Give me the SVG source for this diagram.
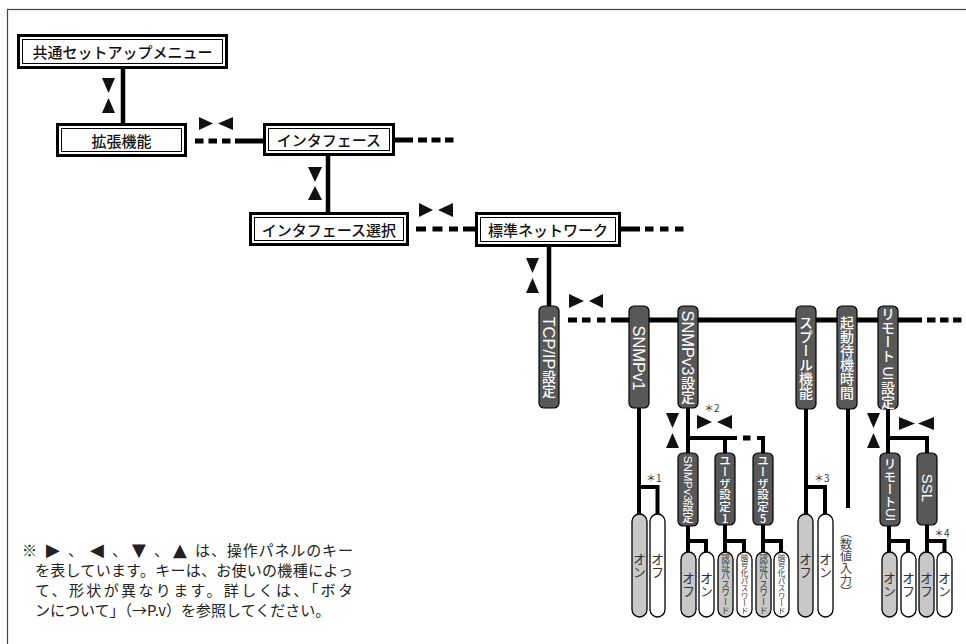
<svg xmlns="http://www.w3.org/2000/svg" width="966" height="644" viewBox="0 0 966 644">
<style>
.bx{font-family:"Noto Sans CJK JP",sans-serif;font-size:15px;font-weight:500;fill:#111;text-anchor:middle;dominant-baseline:central}
.o{fill:#fff;stroke:#000;stroke-width:3}
.i{fill:none;stroke:#000;stroke-width:1}
.dk{fill:#585858;stroke:#000;stroke-width:1.2}
.vt{font-family:"Noto Sans CJK JP",sans-serif;writing-mode:vertical-rl;text-orientation:mixed;text-anchor:middle;fill:#fff;font-size:14px;font-weight:500}
.lat{font-family:"Liberation Sans",Arial,sans-serif;font-size:16.5px;font-weight:400}
.up{text-orientation:upright}
.pg{fill:#c8c8c8;stroke:#000;stroke-width:1.3}
.pw{fill:#fff;stroke:#000;stroke-width:1.3}
.pt{font-family:"Noto Sans CJK JP",sans-serif;writing-mode:vertical-rl;text-anchor:middle;fill:#333;font-size:13px}
.ln{fill:none;stroke:#000;stroke-width:4.5;stroke-linejoin:miter}
.br{fill:none;stroke:#000;stroke-width:4;stroke-linejoin:miter}
.tri{fill:#111}
.ast{font-family:"Noto Sans CJK JP",sans-serif;font-size:10px;fill:#333;dominant-baseline:central}
.nt{font-family:"Noto Sans CJK JP",sans-serif;font-size:15px;fill:#222}
.ntt{font-family:"DejaVu Sans",sans-serif;font-size:18px;fill:#222}
</style>
<rect x="0" y="0" width="966" height="644" fill="#fff"/>
<rect x="7.5" y="9.5" width="970" height="650" fill="none" stroke="#444" stroke-width="1.2"/>

<g id="connectors">
  <line class="ln" x1="123" y1="69" x2="123" y2="123"/>
  <g fill="#000">
    <rect x="195" y="138.5" width="8.5" height="5"/><rect x="208.5" y="138.5" width="8.5" height="5"/><rect x="222" y="138.5" width="8.5" height="5"/>
    <rect x="235" y="138.5" width="28" height="5"/>
    <rect x="395" y="137.5" width="18" height="5"/>
    <rect x="418" y="137.5" width="9" height="5"/><rect x="431.5" y="137.5" width="9" height="5"/><rect x="445" y="137.5" width="8.5" height="5"/>
    <rect x="416" y="226.5" width="10" height="5"/><rect x="432.5" y="226.5" width="10" height="5"/><rect x="449" y="226.5" width="9" height="5"/>
    <rect x="463" y="226.5" width="12" height="5"/>
    <rect x="621" y="226.5" width="19" height="5"/>
    <rect x="645" y="226.5" width="8.5" height="5"/><rect x="660" y="226.5" width="8.5" height="5"/><rect x="675" y="226.5" width="8.5" height="5"/>
    <rect x="568" y="317.5" width="9" height="5"/><rect x="582" y="317.5" width="8.5" height="5"/><rect x="597" y="317.5" width="8.5" height="5"/>
    <rect x="611" y="317.5" width="311" height="5"/>
    <rect x="927" y="317.5" width="8.5" height="5"/><rect x="940" y="317.5" width="8.5" height="5"/><rect x="953" y="317.5" width="8.5" height="5"/>
    <rect x="743" y="435.5" width="7.5" height="5"/>
  </g>
  <line class="ln" x1="328" y1="156" x2="328" y2="212"/>
  <line class="ln" x1="549" y1="247" x2="549" y2="306"/>
  <line class="br" x1="639" y1="408" x2="639" y2="514"/>
  <path class="br" d="M639 487H657.5V514"/>
  <line class="br" x1="688" y1="408" x2="688" y2="453"/>
  <path class="br" d="M688 438H737"/>
  <path class="br" d="M757 438H763V453"/>
  <line class="br" x1="725" y1="438" x2="725" y2="453"/>
  <line class="br" x1="688" y1="526" x2="688" y2="552"/>
  <path class="br" d="M688 541H706V552"/>
  <line class="br" x1="725" y1="525" x2="725" y2="552"/>
  <path class="br" d="M725 541H744V552"/>
  <line class="br" x1="763" y1="525" x2="763" y2="552"/>
  <path class="br" d="M763 541H781V552"/>
  <line class="br" x1="806" y1="409" x2="806" y2="514"/>
  <path class="br" d="M806 487H825V514"/>
  <line class="br" x1="848" y1="409" x2="848" y2="508"/>
  <line class="br" x1="888" y1="409" x2="888" y2="453"/>
  <path class="br" d="M888 438H927V453"/>
  <line class="br" x1="889" y1="526" x2="889" y2="552"/>
  <path class="br" d="M889 541H908V552"/>
  <line class="br" x1="927" y1="525" x2="927" y2="552"/>
  <path class="br" d="M927 541H944.5V552"/>
  <polygon class="tri" points="102,78 115,78 108.5,93"/><polygon class="tri" points="102,113 115,113 108.5,98"/>
  <polygon class="tri" points="199,117 199,130 213,123.5"/><polygon class="tri" points="233,117 233,130 218,123.5"/>
  <polygon class="tri" points="308,167 322,167 315,182"/><polygon class="tri" points="308,200 322,200 315,186"/>
  <polygon class="tri" points="419,203 419,217 433,210"/><polygon class="tri" points="453,203 453,217 438,210"/>
  <polygon class="tri" points="526,258 539,258 532.5,273"/><polygon class="tri" points="526,293 539,293 532.5,278"/>
  <polygon class="tri" points="569,294 569,308 584,301"/><polygon class="tri" points="603,294 603,308 589,301"/>
  <polygon class="tri" points="666,413 679,413 672.5,428"/><polygon class="tri" points="666,448 679,448 672.5,433"/>
  <polygon class="tri" points="697,415 697,429 712,422"/><polygon class="tri" points="732,415 732,429 717,422"/>
  <polygon class="tri" points="867,413 880,413 873.5,428"/><polygon class="tri" points="867,448 880,448 873.5,433"/>
  <polygon class="tri" points="899,417 899,430 915,423.5"/><polygon class="tri" points="934,417 934,430 918,423.5"/>
</g>

<g id="n-common">
  <rect class="o" x="18.5" y="35.5" width="208" height="32"/><rect class="i" x="22.5" y="39.5" width="200" height="24"/>
  <text class="bx" x="122.5" y="51.5">共通セットアップメニュー</text>
</g>
<g id="n-ext">
  <rect class="o" x="57.5" y="124.5" width="128" height="31"/><rect class="i" x="61.5" y="128.5" width="120" height="23"/>
  <text class="bx" x="121.5" y="140">拡張機能</text>
</g>
<g id="n-if">
  <rect class="o" x="264.5" y="124.5" width="129" height="30"/><rect class="i" x="268.5" y="128.5" width="121" height="22"/>
  <text class="bx" x="329" y="139.5">インタフェース</text>
</g>
<g id="n-ifsel">
  <rect class="o" x="250.5" y="213.5" width="157" height="31"/><rect class="i" x="254.5" y="217.5" width="149" height="23"/>
  <text class="bx" x="329" y="229">インタフェース選択</text>
</g>
<g id="n-std">
  <rect class="o" x="476.5" y="213.5" width="143" height="32"/><rect class="i" x="480.5" y="217.5" width="135" height="24"/>
  <text class="bx" x="548" y="229.5">標準ネットワーク</text>
</g>

<g id="n-tcp"><rect class="dk" x="539" y="306" width="20" height="102" rx="5"/>
  <text class="vt" x="549" y="357"><tspan class="lat">TCP/IP</tspan>設定</text></g>
<g id="n-snmpv1"><rect class="dk" x="629" y="306" width="20" height="102" rx="5"/>
  <text class="vt" x="639" y="358"><tspan class="lat">SNMPv1</tspan></text></g>
<g id="n-snmpv3"><rect class="dk" x="678" y="306" width="20" height="102" rx="5"/>
  <text class="vt" x="688" y="357"><tspan class="lat">SNMPv3</tspan>設定</text></g>
<g id="n-spool"><rect class="dk" x="796" y="306" width="20" height="103" rx="5"/>
  <text class="vt" x="806" y="357.5">スプール機能</text></g>
<g id="n-wait"><rect class="dk" x="837" y="306" width="20" height="103" rx="5"/>
  <text class="vt" x="847" y="357.5">起動待機時間</text></g>
<g id="n-rui"><rect class="dk" x="878" y="306" width="20" height="103" rx="5"/>
  <text class="vt" x="888" y="357.5">リモート<tspan class="lat" style="font-size:14px"> UI</tspan>設定</text></g>

<g id="n-snmpv3s"><rect class="dk" x="678" y="453" width="20" height="73" rx="5"/>
  <text class="vt" x="688" y="489.5" style="font-size:11px"><tspan class="lat" style="font-size:11.5px">SNMPv3</tspan>設定</text></g>
<g id="n-user1"><rect class="dk" x="715" y="453" width="20" height="72" rx="5"/>
  <text class="vt" x="725" y="489" style="font-size:11.5px">ユーザ設定<tspan class="up">1</tspan></text></g>
<g id="n-user5"><rect class="dk" x="753" y="453" width="20" height="72" rx="5"/>
  <text class="vt" x="763" y="489" style="font-size:11.5px">ユーザ設定<tspan class="up">5</tspan></text></g>
<g id="n-ruis"><rect class="dk" x="880" y="453" width="20" height="73" rx="5"/>
  <text class="vt" x="890" y="489.5" style="font-size:12.5px">リモート<tspan class="lat" style="font-size:13px">UI</tspan></text></g>
<g id="n-ssl"><rect class="dk" x="917" y="453" width="20" height="72" rx="5"/>
  <text class="vt" x="927" y="488"><tspan class="lat" style="font-size:15px">SSL</tspan></text></g>

<g id="p-v1-on"><rect class="pg" x="632" y="514" width="15" height="103" rx="7.5"/><text class="pt" x="639.5" y="565.5">オン</text></g>
<g id="p-v1-off"><rect class="pw" x="650" y="514" width="15" height="103" rx="7.5"/><text class="pt" x="657.5" y="565.5">オフ</text></g>
<g id="p-v3-off"><rect class="pg" x="681" y="552" width="15" height="65" rx="7.5"/><text class="pt" x="688.5" y="584.5">オフ</text></g>
<g id="p-v3-on"><rect class="pw" x="699" y="552" width="15" height="65" rx="7.5"/><text class="pt" x="706.5" y="584.5">オン</text></g>
<g id="p-u1-auth"><rect class="pg" x="718" y="552" width="15" height="65" rx="7.5"/><text class="pt" x="725.5" y="584.5" style="font-size:8.6px">認証パスワード</text></g>
<g id="p-u1-enc"><rect class="pw" x="737" y="552" width="15" height="65" rx="7.5"/><text class="pt" x="744.5" y="584.5" style="font-size:7.6px">暗号化パスワード</text></g>
<g id="p-u5-auth"><rect class="pg" x="756" y="552" width="15" height="65" rx="7.5"/><text class="pt" x="763.5" y="584.5" style="font-size:8.6px">認証パスワード</text></g>
<g id="p-u5-enc"><rect class="pw" x="774" y="552" width="15" height="65" rx="7.5"/><text class="pt" x="781.5" y="584.5" style="font-size:7.6px">暗号化パスワード</text></g>
<g id="p-sp-off"><rect class="pg" x="798" y="514" width="15" height="103" rx="7.5"/><text class="pt" x="805.5" y="565.5">オフ</text></g>
<g id="p-sp-on"><rect class="pw" x="818" y="514" width="15" height="103" rx="7.5"/><text class="pt" x="825.5" y="565.5">オン</text></g>
<g id="p-num"><text class="pt" x="846" y="562" style="font-size:12px;fill:#444">（数値入力）</text></g>
<g id="p-rui-on"><rect class="pg" x="882" y="552" width="15" height="65" rx="7.5"/><text class="pt" x="889.5" y="584.5">オン</text></g>
<g id="p-rui-off"><rect class="pw" x="901" y="552" width="15" height="65" rx="7.5"/><text class="pt" x="908.5" y="584.5">オフ</text></g>
<g id="p-ssl-off"><rect class="pg" x="919" y="552" width="15" height="65" rx="7.5"/><text class="pt" x="926.5" y="584.5">オフ</text></g>
<g id="p-ssl-on"><rect class="pw" x="937" y="552" width="15" height="65" rx="7.5"/><text class="pt" x="944.5" y="584.5">オン</text></g>

<g id="notes">
  <text class="ast" x="646" y="477">＊1</text>
  <text class="ast" x="704" y="407">＊2</text>
  <text class="ast" x="814" y="477">＊3</text>
  <text class="ast" x="934" y="532">＊4</text>
  <text class="nt" y="556"><tspan x="22">※</tspan><tspan class="ntt" x="46" y="556">▶</tspan><tspan x="68" y="556">、</tspan><tspan class="ntt" x="90" y="556">◀</tspan><tspan x="112" y="556">、</tspan><tspan class="ntt" x="132" y="556">▼</tspan><tspan x="154" y="556">、</tspan><tspan class="ntt" x="173" y="556">▲</tspan><tspan x="195" y="556" textLength="158" lengthAdjust="spacing">は、操作パネルのキー</tspan></text>
  <text class="nt" x="35" y="576" textLength="318" lengthAdjust="spacing">を表しています。キーは、お使いの機種によっ</text>
  <text class="nt" x="35" y="596" textLength="318" lengthAdjust="spacing">て、形状が異なります。詳しくは、「ボタ</text>
  <text class="nt" x="35" y="616">ンについて」（→P.v）を参照してください。</text>
</g>
</svg>
